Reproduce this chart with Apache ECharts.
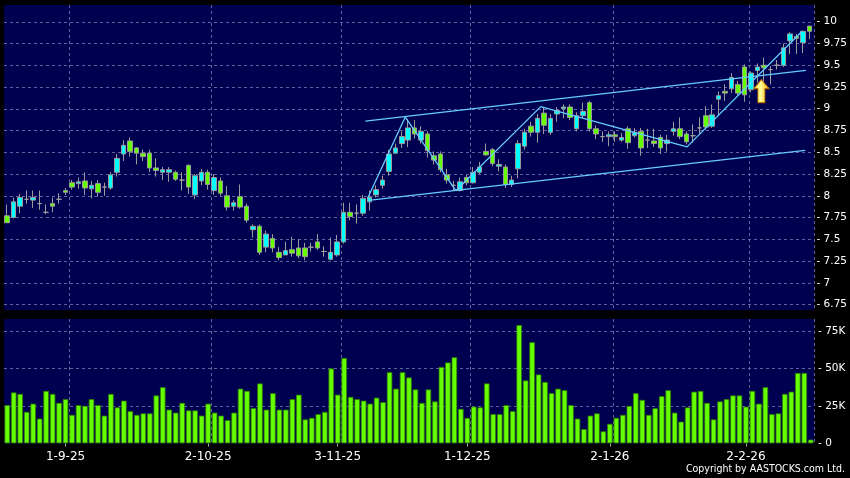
<!DOCTYPE html>
<html><head><meta charset="utf-8">
<script src="https://cdn.jsdelivr.net/npm/echarts@6/dist/echarts.min.js"></script>
<style>html,body{margin:0;padding:0;background:#000;} #c{width:850px;height:478px;}</style>
</head><body><div id="c"></div>
<script>
const dates = ("19-8-25 20-8-25 21-8-25 22-8-25 25-8-25 26-8-25 27-8-25 28-8-25 29-8-25 " +
 "1-9-25 2-9-25 3-9-25 4-9-25 5-9-25 8-9-25 9-9-25 10-9-25 11-9-25 12-9-25 15-9-25 16-9-25 17-9-25 18-9-25 19-9-25 22-9-25 23-9-25 24-9-25 25-9-25 26-9-25 29-9-25 30-9-25 " +
 "2-10-25 3-10-25 6-10-25 8-10-25 9-10-25 10-10-25 13-10-25 14-10-25 15-10-25 16-10-25 17-10-25 20-10-25 21-10-25 22-10-25 23-10-25 24-10-25 27-10-25 28-10-25 30-10-25 31-10-25 " +
 "3-11-25 4-11-25 5-11-25 6-11-25 7-11-25 10-11-25 11-11-25 12-11-25 13-11-25 14-11-25 17-11-25 18-11-25 19-11-25 20-11-25 21-11-25 24-11-25 25-11-25 26-11-25 27-11-25 28-11-25 " +
 "1-12-25 2-12-25 3-12-25 4-12-25 5-12-25 8-12-25 9-12-25 10-12-25 11-12-25 12-12-25 15-12-25 16-12-25 17-12-25 18-12-25 19-12-25 22-12-25 23-12-25 24-12-25 26-12-25 29-12-25 30-12-25 31-12-25 " +
 "2-1-26 5-1-26 6-1-26 7-1-26 8-1-26 9-1-26 12-1-26 13-1-26 14-1-26 15-1-26 16-1-26 19-1-26 20-1-26 21-1-26 22-1-26 23-1-26 26-1-26 27-1-26 28-1-26 29-1-26 30-1-26 " +
 "2-2-26 3-2-26 4-2-26 5-2-26 6-2-26 9-2-26 10-2-26 11-2-26 12-2-26 13-2-26 16-2-26").split(' ');

const tickLabels = ['1-9-25', '2-10-25', '3-11-25', '1-12-25', '2-1-26', '2-2-26'];

const openP = [7.77,7.75,7.88,7.96,7.95,7.91,7.81,7.91,7.96,8.06, 8.15,8.14,8.17,8.08,8.14,8.10,8.09,8.27,8.48,8.63,
 8.55,8.49,8.49,8.32,8.27,8.27,8.27,8.18,8.35,8.01, 8.17,8.27,8.06,8.17,8.00,7.88,7.99,7.88,7.61,7.65,
 7.41,7.51,7.35,7.32,7.38,7.40,7.40,7.41,7.47,7.36, 7.27,7.32,7.47,7.81,7.80,7.80,7.93,8.01,8.12,8.28,
 8.49,8.60,8.64,8.78,8.64,8.71,8.46,8.48,8.24,8.12, 8.06,8.21,8.15,8.27,8.51,8.53,8.34,8.33,8.13,8.31,
 8.57,8.80,8.73,8.95,8.73,8.94,9.00,9.02,8.77,8.92, 9.07,8.77,8.68,8.68,8.70,8.64,8.77,8.69,8.74,8.64,
 8.63,8.67,8.60,8.74,8.77,8.71,8.69,8.78,8.92,8.80, 9.11,9.20,9.23,9.28,9.48,9.22,9.44,9.50,9.45,9.50,
 9.50,9.78,9.83,9.76,9.95];
const closeP = [7.69,7.93,7.98,7.96,7.98,7.91,7.81,7.88,7.96,8.04, 8.10,8.16,8.09,8.12,8.04,8.10,8.24,8.43,8.58,8.51,
 8.49,8.45,8.32,8.29,8.30,8.30,8.19,8.18,8.10,8.23, 8.27,8.13,8.21,8.03,7.87,7.92,7.87,7.72,7.65,7.35,
 7.56,7.40,7.29,7.37,7.34,7.31,7.30,7.41,7.40,7.36, 7.35,7.47,7.81,7.76,7.80,7.97,7.98,8.07,8.18,8.48,
 8.55,8.68,8.78,8.71,8.74,8.52,8.41,8.30,8.18,8.12, 8.16,8.15,8.27,8.33,8.47,8.37,8.36,8.13,8.18,8.60,
 8.73,8.73,8.89,8.81,8.89,8.98,9.02,8.90,8.92,8.97, 8.77,8.71,8.68,8.70,8.68,8.67,8.61,8.73,8.55,8.64,
 8.60,8.55,8.64,8.77,8.68,8.62,8.69,8.78,8.79,8.93, 9.15,9.18,9.36,9.18,9.16,9.41,9.48,9.47,9.45,9.50,
 9.70,9.86,9.81,9.89,9.89];
const lowP = [7.69,7.74,7.80,7.91,7.86,7.84,7.79,7.81,7.91,8.01, 8.07,8.08,8.01,7.97,7.99,8.00,8.07,8.22,8.40,8.45,
 8.36,8.40,8.27,8.22,8.18,8.16,8.17,8.06,8.02,7.96, 8.12,8.07,8.01,8.00,7.83,7.83,7.85,7.69,7.52,7.32,
 7.35,7.35,7.26,7.32,7.30,7.28,7.26,7.36,7.38,7.30, 7.26,7.30,7.45,7.72,7.68,7.77,7.83,7.98,8.08,8.23,
 8.48,8.55,8.56,8.66,8.60,8.44,8.36,8.27,8.14,8.06, 8.05,8.12,8.14,8.25,8.46,8.34,8.28,8.09,8.10,8.20,
 8.53,8.68,8.61,8.71,8.70,8.85,8.89,8.87,8.74,8.89, 8.74,8.65,8.62,8.57,8.62,8.62,8.54,8.67,8.46,8.55,
 8.56,8.48,8.51,8.69,8.65,8.59,8.61,8.70,8.76,8.78, 8.92,9.09,9.18,9.15,9.08,9.19,9.30,9.30,9.28,9.45,
 9.48,9.63,9.63,9.64,9.80];
const highP = [7.90,7.98,8.02,8.06,8.06,8.06,7.90,7.98,8.03,8.09, 8.18,8.21,8.27,8.17,8.18,8.15,8.27,8.48,8.64,8.67,
 8.56,8.53,8.53,8.43,8.33,8.33,8.29,8.27,8.36,8.25, 8.31,8.30,8.25,8.21,8.11,7.95,8.13,7.91,7.67,7.67,
 7.60,7.56,7.41,7.47,7.53,7.50,7.46,7.46,7.56,7.42, 7.52,7.55,7.92,7.92,7.90,8.01,8.06,8.12,8.23,8.53,
 8.60,8.74,8.88,8.87,8.80,8.74,8.51,8.51,8.31,8.17, 8.21,8.24,8.33,8.39,8.60,8.55,8.42,8.36,8.23,8.64,
 8.77,8.85,8.94,9.02,8.94,9.02,9.05,9.05,8.96,9.07, 9.09,8.81,8.74,8.74,8.74,8.72,8.80,8.78,8.78,8.77,
 8.77,8.70,8.70,8.85,8.90,8.74,8.82,8.90,9.03,9.05, 9.20,9.28,9.41,9.32,9.51,9.43,9.52,9.59,9.49,9.56,
 9.75,9.88,9.86,9.90,9.95];

const volumeK = [25.5,34,33,21,26.5,16.5,35,33,27,29.5, 19,25.5,25,29.5,25.5,18.5,33,24,28.5,21.5,
 19,20,20,32,37.5,22.5,20.5,27,22,22, 18.5,26.5,20.5,18.5,15.5,20.5,36.5,35,23.5,40,
 22.5,33.5,22.5,22.5,29.5,32.5,16,17,19.5,21, 50,32.5,57,31,29.5,28.5,26.5,30.5,27.5,47.5,
 36.5,47.5,44,36,27,36,28,51,54,57.5, 23,17,24.5,24,40,19.5,19.5,25.5,21.5,79,
 42,67.5,46,41,33.5,36.5,35.5,25.5,16.5,9.5, 18.5,20,8,13,17,19,25,33.5,29,19,
 23.5,31.5,35.5,20.5,14.5,24,34.5,35,27,16, 28,29.5,32,32,24.5,35,26.5,37.5,19.5,20,
 33,34.5,47,47,2.5];

// drawn trend lines, as [candle index, price]
const upperChannel = [[55.36, 8.857], [123.47, 9.44]];
const lowerChannel = [[55.87, 7.946], [123.37, 8.521]];
const zigzag = [[55.72, 7.972], [61.54, 8.905], [69.36, 8.058], [82.48, 9.025], [105.1, 8.562], [122.85, 9.888]];
const arrowPoint = [[116.6, 9.204]];

const chart = echarts.init(document.getElementById('c'), null, {renderer: 'canvas'});
const L = 4, W = 810;
const FONT = 'DejaVu Sans';
const navy = '#000050';
const gridLine = {color: '#62629c', width: 1, type: [3, 3]};
const isTick = (i) => tickLabels.includes(dates[i]);
const isSplit = (i) => i > 0 && tickLabels.includes(dates[i - 1]);
const hiddenCat = (g) => ({type: 'category', gridIndex: g, data: dates, boundaryGap: true,
  axisLine: {show: false}, axisTick: {show: false}, axisLabel: {show: false}, splitLine: {show: false}});
const fmtP = (v) => '- ' + String(+v.toFixed(2));
const fmtV = (v) => '- ' + (v === 0 ? '0' : (v / 1000) + 'K');

const option = {
  backgroundColor: '#000',
  animation: false,
  grid: [
    {left: L, top: 5, width: W, height: 305, show: true, backgroundColor: navy, borderWidth: 0},
    {left: L, top: -8.31, width: W, height: 334.6, show: false},
    {left: L, top: 319, width: W, height: 124.5, show: true, backgroundColor: navy, borderWidth: 0},
    {left: L, top: 293.6, width: W, height: 149.73, show: false}
  ],
  xAxis: [
    Object.assign(hiddenCat(0), {splitLine: {show: true, interval: (i) => isSplit(i), lineStyle: gridLine}}),
    hiddenCat(1),
    {type: 'value', gridIndex: 1, min: -0.5, max: 124.5, show: false},
    Object.assign(hiddenCat(2), {
      axisLabel: {show: true, interval: (i) => isTick(i), color: '#fff', fontFamily: FONT, fontSize: 12, margin: 7},
      axisTick: {show: true, alignWithLabel: true, interval: (i) => isTick(i), length: 3, lineStyle: {color: '#aaa'}},
      splitLine: {show: true, interval: (i) => isSplit(i), lineStyle: gridLine}
    }),
    hiddenCat(3)
  ],
  yAxis: [
    {type: 'value', gridIndex: 0, min: 0, max: 1, show: false},
    {type: 'value', gridIndex: 1, position: 'right', min: 6.5, max: 10.25, interval: 0.25,
      axisLine: {show: false}, axisTick: {show: false},
      axisLabel: {formatter: fmtP, color: '#fff', fontFamily: FONT, fontSize: 10.5, margin: 4, showMinLabel: false, showMaxLabel: false},
      splitLine: {show: true, lineStyle: gridLine, showMinLine: false, showMaxLine: false}},
    {type: 'value', gridIndex: 2, min: 0, max: 1, show: false},
    {type: 'value', gridIndex: 3, position: 'right', min: 0, max: 100000, interval: 25000,
      axisLine: {show: false}, axisTick: {show: false},
      axisLabel: {formatter: fmtV, color: '#fff', fontFamily: FONT, fontSize: 10.5, margin: 4, showMaxLabel: false},
      splitLine: {show: true, lineStyle: gridLine, showMinLine: false, showMaxLine: false}}
  ],
  series: [
    {type: 'candlestick', xAxisIndex: 1, yAxisIndex: 1, barWidth: 5,
      data: dates.map((d, i) => [openP[i], closeP[i], lowP[i], highP[i]]),
      itemStyle: {color: '#00ffff', color0: '#66ff00', borderColor: '#9a9a9a', borderColor0: '#9a9a9a', borderColorDoji: '#a0a0a0', borderWidth: 1}},
    ...[upperChannel, lowerChannel, zigzag].map((d) => ({type: 'line', xAxisIndex: 2, yAxisIndex: 1, data: d,
      showSymbol: false, silent: true, z: 5, lineStyle: {color: '#66ccff', width: 1.3}})),
    {type: 'scatter', xAxisIndex: 2, yAxisIndex: 1, data: arrowPoint, z: 6, silent: true,
      symbol: 'path://M7.5,0 L15,9 L11,9 L11,23 L4,23 L4,9 L0,9 Z', symbolSize: [15, 23],
      itemStyle: {color: new echarts.graphic.LinearGradient(0, 0, 1, 0, [
        {offset: 0, color: '#ffd633'}, {offset: 0.45, color: '#ffff99'}, {offset: 1, color: '#ffaa00'}]),
        borderColor: '#b86a00', borderWidth: 1, opacity: 1}},
    {type: 'bar', xAxisIndex: 4, yAxisIndex: 3, barWidth: 5.5,
      data: volumeK.map((v) => v * 1000),
      itemStyle: {color: '#66ff00', borderColor: '#2f8000', borderWidth: 0.8}}
  ],
  graphic: [
    {type: 'text', right: 5, top: 464, style: {text: 'Copyright by AASTOCKS.com Ltd.', fill: '#fff', font: '10.5px "DejaVu Sans Condensed", "DejaVu Sans"'}}
  ]
};
chart.setOption(option);
</script>
</body></html>
